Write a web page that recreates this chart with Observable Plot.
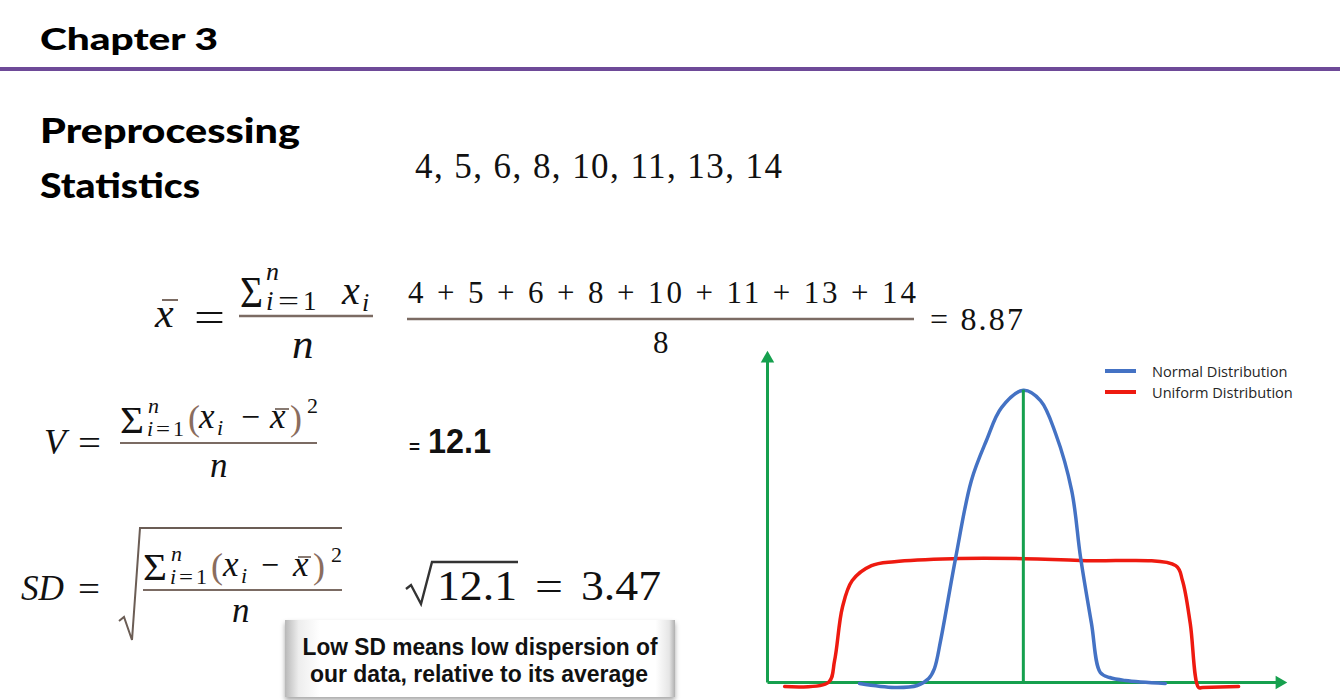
<!DOCTYPE html>
<html>
<head>
<meta charset="utf-8">
<script src="https://cdn.jsdelivr.net/npm/d3@7"></script>
<script src="https://cdn.jsdelivr.net/npm/@observablehq/plot@0.6"></script>
<style>
  html, body { margin: 0; padding: 0; background: #fff; }
  body { width: 1340px; height: 700px; position: relative; overflow: hidden; }
  #slide { position: absolute; left: 0; top: 0; }
  #chart { position: absolute; left: 740px; top: 340px; }
  #legend { position: absolute; left: 1105px; top: 360px; font-family: "Open Sans", sans-serif; font-size: 14.6px; color: #262626; }
  #legend .row { display: flex; align-items: center; height: 21px; }
  #legend .sw { width: 31px; height: 4px; margin-right: 16px; }
</style>
</head>
<body>
<svg id="slide" width="1340" height="700"></svg>
<div id="chart"></div>
<div id="legend"></div>
<script>
// ---------- data ----------
const values = [4, 5, 6, 8, 10, 11, 13, 14];
const meanText = "8.87";
const varianceText = "12.1";
const sdText = "3.47";

const seriesNames = ["Normal Distribution", "Uniform Distribution"];
const seriesColors = ["#4472c4", "#ee1a10"];
const axisColor = "#16a04e";

// hand-drawn curves (x: 0..100 along the horizontal axis, y: 0..100 up the vertical axis)
const normalX = [17.7, 24.4, 28.8, 31.0, 32.1, 33.3, 36.2, 39.2, 42.1, 45.0, 49.2, 52.5, 55.4, 58.5, 60.2, 62.3, 64.0, 65.8, 68.8, 76.5];
const normalY = [-0.3, -1.5, -0.9, 1.2, 4.2, 12.7, 37.7, 60.8, 72.9, 82.8, 88.0, 84.9, 75.0, 57.8, 37.7, 17.8, 3.0, 1.5, 0.6, -0.3];
const uniformX = [3.3, 11.7, 12.9, 14.4, 16.3, 20.0, 24.4, 35.6, 49.2, 61.3, 78.5, 79.8, 81.3, 82.9, 83.7, 90.6];
const uniformY = [-1.2, 0.0, 6.6, 22.6, 30.7, 35.2, 36.4, 37.3, 37.3, 36.7, 35.2, 30.7, 17.8, -1.5, -1.5, -1.2];
const meanLineX = [49.2];
const meanLineTop = [88.0];
const axisEnd = [100];

// ---------- chart ----------
const normal = normalX.map((x, i) => ({x, y: normalY[i], series: seriesNames[0]}));
const uniform = uniformX.map((x, i) => ({x, y: uniformY[i], series: seriesNames[1]}));
const axes = [
  {x1: 0, y1: 0, x2: 0, y2: axisEnd[0] - 2},
  {x1: 0, y1: 0, x2: axisEnd[0] - 2, y2: 0}
];

const chart = Plot.plot({
  width: 600,
  height: 360,
  marginLeft: 27,
  marginRight: 53,
  marginTop: 10,
  marginBottom: 18,
  style: {background: "transparent", overflow: "visible"},
  x: {domain: [0, 100], axis: null},
  y: {domain: [0, 100], axis: null},
  marks: [
    Plot.link(axes, {x1: "x1", y1: "y1", x2: "x2", y2: "y2", stroke: axisColor, strokeWidth: 3}),
    Plot.dot(axisEnd, {x: 0, y: d => d, symbol: "triangle", r: 5, fill: axisColor, stroke: "none", dy: 8}),
    Plot.dot(axisEnd, {x: d => d, y: 0, symbol: "triangle", r: 5, rotate: 90, fill: axisColor, stroke: "none", dx: -8}),
    Plot.line(uniform, {x: "x", y: "y", stroke: seriesColors[1], strokeWidth: 3.5, curve: "catmull-rom"}),
    Plot.line(normal, {x: "x", y: "y", stroke: seriesColors[0], strokeWidth: 3.5, curve: "catmull-rom"}),
    Plot.ruleX(meanLineX, {x: d => d, y1: 0, y2: (d, i) => meanLineTop[i], stroke: axisColor, strokeWidth: 3})
  ]
});
document.getElementById("chart").append(chart);

// legend
const legend = d3.select("#legend");
seriesNames.forEach((name, i) => {
  const row = legend.append("div").attr("class", "row");
  row.append("div").attr("class", "sw").style("background", seriesColors[i]);
  row.append("span").text(name);
});

// ---------- slide text ----------
const S = d3.select("#slide");
const defs = S.append("defs");
const grad = defs.append("linearGradient").attr("id", "boxg").attr("x1", 0).attr("x2", 1).attr("y1", 0).attr("y2", 0);
[[0, "#b8b8b8"], [0.035, "#ededed"], [0.09, "#ffffff"], [0.95, "#ffffff"], [0.985, "#e6e6e6"], [1, "#b0b0b0"]]
  .forEach(([o, c]) => grad.append("stop").attr("offset", o).attr("stop-color", c));
const f = defs.append("filter").attr("id", "shadow").attr("x", -0.1).attr("y", -0.2).attr("width", 1.2).attr("height", 1.5);
f.append("feDropShadow").attr("dx", 0).attr("dy", 3).attr("stdDeviation", 2.5).attr("flood-color", "#000").attr("flood-opacity", 0.35);

const BAR = "#7b6b63";
const PAREN = "#8a6d5e";
function txt(x, y, s, o = {}) {
  const t = S.append("text").attr("x", x).attr("y", y).text(s)
    .attr("font-family", o.family || "Liberation Serif")
    .attr("font-size", o.size || 34)
    .attr("fill", o.fill || "#111");
  if (o.italic) t.attr("font-style", "italic");
  if (o.weight) t.attr("font-weight", o.weight);
  if (o.len) t.attr("textLength", o.len).attr("lengthAdjust", o.adj || "spacingAndGlyphs");
  if (o.anchor) t.attr("text-anchor", o.anchor);
  return t;
}
function ln(x1, y1, x2, y2, c = BAR, w = 2) {
  S.append("line").attr("x1", x1).attr("y1", y1).attr("x2", x2).attr("y2", y2).attr("stroke", c).attr("stroke-width", w);
}

// header
const HEAD = {family: "Lato", weight: 900, fill: "#000"};
txt(40, 50, "Chapter 3", {...HEAD, size: 30, len: 178});
S.append("rect").attr("x", 0).attr("y", 67).attr("width", 1340).attr("height", 4).attr("fill", "#6e4a98");
txt(40, 143, "Preprocessing", {...HEAD, size: 35, len: 260});
txt(40, 198, "Statistics", {...HEAD, size: 35, len: 160});

// data list
txt(415, 178, values.join(", "), {size: 35, len: 367, adj: "spacing"});

// mean formula
txt(155, 327, "x", {italic: true, size: 42});
ln(162, 300, 178, 300, BAR, 2);
txt(194, 331, "=", {size: 42, len: 31});
txt(240, 307, "Σ", {size: 44, len: 23});
txt(266, 280, "n", {italic: true, size: 26});
txt(266, 310, "i", {italic: true, size: 27});
txt(278, 310, "=", {size: 27, len: 21});
txt(303, 310, "1", {size: 27});
txt(342, 304, "x", {italic: true, size: 40});
txt(362, 311, "i", {italic: true, size: 26});
ln(239, 316, 373, 316, BAR, 2.5);
txt(292, 358, "n", {italic: true, size: 43});

txt(408, 303, values.join(" + "), {size: 31, len: 508, adj: "spacing"});
ln(407, 319, 914, 319, BAR, 2.5);
txt(653, 353, String(values.length), {size: 31});
txt(930, 330, "= " + meanText, {size: 32, len: 93, adj: "spacing"});

// variance formula
txt(44, 454, "V", {italic: true, size: 36});
txt(78, 455, "=", {size: 36, len: 23});
txt(120, 433, "Σ", {size: 38, len: 24});
txt(148, 413, "n", {italic: true, size: 22});
txt(147, 436, "i", {italic: true, size: 22});
txt(156, 436, "=", {size: 22, len: 14});
txt(173, 436, "1", {size: 22});
txt(188, 430, "(", {size: 36, fill: PAREN});
txt(199, 428, "x", {italic: true, size: 35});
txt(217, 435, "i", {italic: true, size: 22});
txt(241, 428, "−", {size: 34, len: 19});
txt(270, 428, "x", {italic: true, size: 35});
ln(275, 409, 289, 409, BAR, 1.8);
txt(290, 430, ")", {size: 36, fill: PAREN});
txt(307, 413, "2", {size: 22});
ln(120, 443, 317, 443, BAR, 2);
txt(210, 477, "n", {italic: true, size: 35});
txt(409, 453, "=", {family: "Liberation Sans", weight: 700, size: 18, len: 11});
txt(428, 453, varianceText, {family: "Liberation Sans", weight: 700, size: 35, len: 63});

// SD formula
txt(21, 600, "SD", {italic: true, size: 35, len: 43});
txt(78, 601, "=", {size: 36, len: 22});
S.append("path").attr("d", "M119,621 L124,617 L132,640 L140,528 L342,528").attr("fill", "none").attr("stroke", "#6b5d55").attr("stroke-width", 2);
txt(143, 580, "Σ", {size: 38, len: 24});
txt(171, 561, "n", {italic: true, size: 22});
txt(170, 584, "i", {italic: true, size: 22});
txt(179, 584, "=", {size: 22, len: 14});
txt(196, 584, "1", {size: 22});
txt(211, 578, "(", {size: 36, fill: PAREN});
txt(223, 576, "x", {italic: true, size: 35});
txt(241, 583, "i", {italic: true, size: 22});
txt(261, 576, "−", {size: 34, len: 18});
txt(293, 576, "x", {italic: true, size: 35});
ln(298, 557, 311, 557, BAR, 1.8);
txt(313, 578, ")", {size: 36, fill: PAREN});
txt(331, 562, "2", {size: 22});
ln(143, 590, 342, 590, BAR, 2);
txt(232, 622, "n", {italic: true, size: 35});

S.append("path").attr("d", "M406,589 L411,585 L421,604 L432,562 L518,562").attr("fill", "none").attr("stroke", "#333").attr("stroke-width", 2.4);
txt(437, 600, varianceText, {size: 42, len: 80});
txt(535, 600, "=", {size: 42, len: 28});
txt(581, 600, sdText, {size: 42, len: 80});

// callout
S.append("rect").attr("x", 285).attr("y", 620).attr("width", 390).attr("height", 77)
  .attr("fill", "url(#boxg)").attr("filter", "url(#shadow)");
txt(480, 655, "Low SD means low dispersion of", {family: "Liberation Sans", weight: 700, size: 23, len: 355, anchor: "middle"});
txt(479, 682, "our data, relative to its average", {family: "Liberation Sans", weight: 700, size: 23, len: 338, anchor: "middle"});
</script>
</body>
</html>
